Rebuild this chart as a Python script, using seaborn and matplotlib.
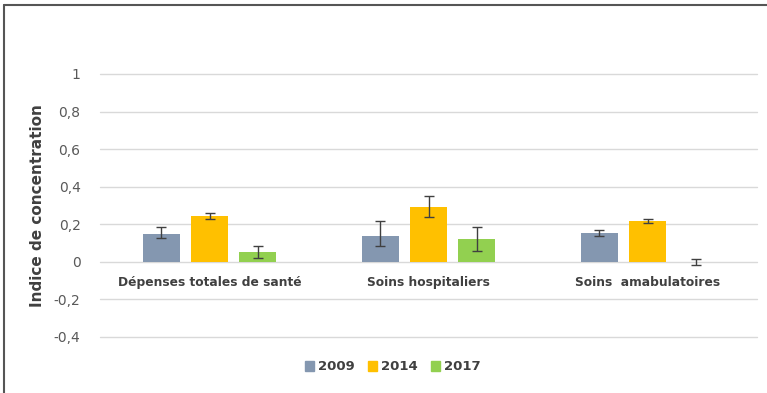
""" concentration index by type of health spending """
import numpy as np
import pandas as pd
import matplotlib
matplotlib.use("Agg")
import matplotlib.pyplot as plt
import seaborn as sns
from matplotlib.lines import Line2D

# data
categories = ["Dépenses totales de santé", "Soins hospitaliers", "Soins  amabulatoires"]
years = ["2009", "2014", "2017"]
values_2009 = [0.147, 0.138, 0.154]
values_2014 = [0.246, 0.294, 0.218]
values_2017 = [0.053, 0.122, -0.002]
# lower / upper error half-widths
err_low_2009 = [0.021, 0.051, 0.014]
err_up_2009 = [0.041, 0.080, 0.018]
err_low_2014 = [0.017, 0.053, 0.011]
err_up_2014 = [0.016, 0.057, 0.012]
err_low_2017 = [0.033, 0.064, 0.014]
err_up_2017 = [0.034, 0.066, 0.018]
yticks = [-0.4, -0.2, 0, 0.2, 0.4, 0.6, 0.8, 1]

colors = ["#8497B0", "#FFC000", "#92D050"]
text_col = "#404040"

values = [values_2009, values_2014, values_2017]
err_low = [err_low_2009, err_low_2014, err_low_2017]
err_up = [err_up_2009, err_up_2014, err_up_2017]

df = pd.DataFrame({
    "categorie": categories * 3,
    "annee": np.repeat(years, 3),
    "valeur": values_2009 + values_2014 + values_2017,
})

sns.set_style("white")
plt.rcParams["font.family"] = ["DejaVu Sans"]

fig = plt.figure(figsize=(7.67, 3.93), dpi=100)
ax = fig.add_axes([100 / 767, 1 - 337 / 393, 657 / 767, 263 / 393])

sns.barplot(data=df, x="categorie", y="valeur", hue="annee", palette=colors,
            width=0.66, gap=0.23, ax=ax, legend=False, saturation=1,
            linewidth=0)

bar_conts = list(ax.containers)
for i, cont in enumerate(bar_conts):
    xs = [p.get_x() + p.get_width() / 2 for p in cont.patches]
    ax.errorbar(xs, values[i], yerr=[err_low[i], err_up[i]], fmt="none",
                ecolor=text_col, elinewidth=1, capsize=3.5, capthick=1)

ax.set_ylim(-0.4, 1.0)
ax.set_xlim(-0.5, 2.5)
ax.set_yticks(yticks)
ax.set_yticklabels([("%g" % t).replace(".", ",") for t in yticks],
                   color="#595959", fontsize=10)
ax.tick_params(axis="y", length=0, pad=14)
ax.set_xticks([])
ax.set_xlabel("")
ax.set_ylabel("Indice de concentration", fontsize=11, fontweight="bold",
              color=text_col, labelpad=6)
for t in yticks:
    ax.axhline(t, color="#D9D9D9", lw=1, zorder=0, clip_on=False)
for s in ax.spines.values():
    s.set_visible(False)

for i, cat in enumerate(categories):
    ax.text(i, -0.112, cat, ha="center", va="center", fontsize=8.8,
            fontweight="bold", color=text_col)

handles = [plt.Rectangle((0, 0), 1, 1, color=c) for c in colors]
fig.legend(handles, years, loc="center", bbox_to_anchor=(393 / 767, 1 - 367 / 393),
           ncol=3, frameon=False, handlelength=0.7, handleheight=0.7,
           handletextpad=0.3, columnspacing=1.0,
           prop={"size": 9.5, "weight": "bold"}, labelcolor=text_col)

# frame lines of the original picture (top and left)
fig.add_artist(Line2D([4 / 767, 1], [1 - 5 / 393, 1 - 5 / 393], color="#555555", lw=1.5))
fig.add_artist(Line2D([4 / 767, 4 / 767], [0, 1 - 5 / 393], color="#555555", lw=1.5))

fig.savefig("out.png", dpi=100)
